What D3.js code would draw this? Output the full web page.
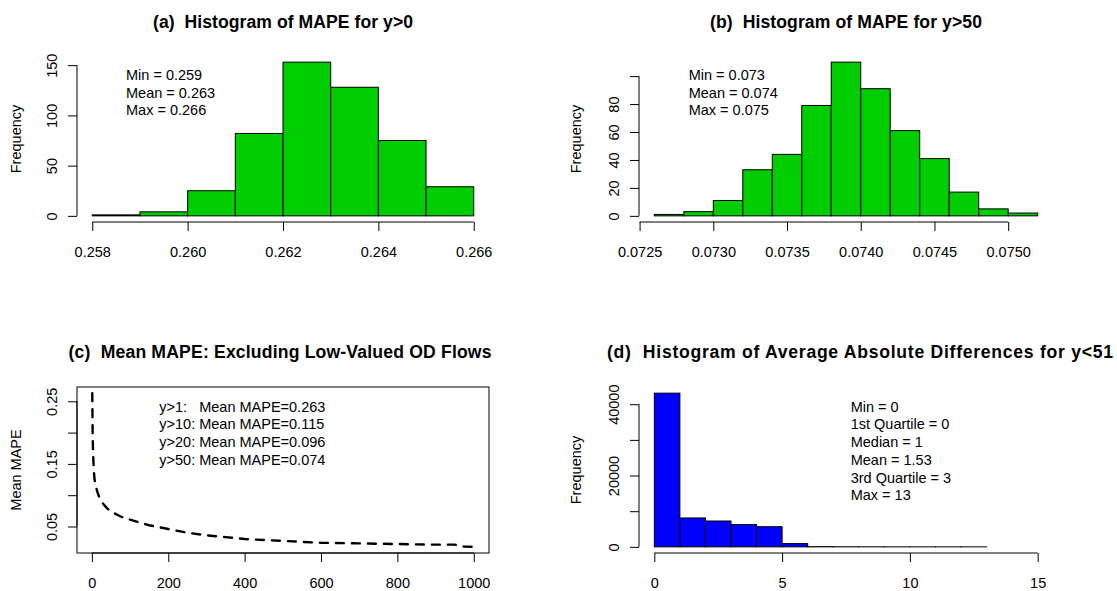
<!DOCTYPE html>
<html lang="en">
    <head>
        <meta charset="utf-8">
        <title>MAPE panels</title>
        <script src="https://d3js.org/d3.v7.min.js"></script>
        <style type="text/css">
            body { margin: 0; background: #fff; }
            text { font-family: "Liberation Sans", Arial, sans-serif; fill: #000; white-space: pre; }
            .tick line, .axisLine { stroke: #000; stroke-width: 1; }
        </style>
    </head>
    <body>
        <script type="text/javascript">

            //1. Consts
            const svgWidth = 1117;
            const svgHeight = 591;
            const fs = 14.5;
            const green = "#00cd00";
            const blue = "#0000ff";

            //2. Data
            // (a) MAPE for y>0
            const breaksA = [0.258, 0.259, 0.260, 0.261, 0.262, 0.263, 0.264, 0.265, 0.266];
            const countsA = [1, 4, 25, 82, 153, 128, 75, 29];
            const xTicksA = [0.258, 0.260, 0.262, 0.264, 0.266];
            const yTicksA = [0, 50, 100, 150];
            const statsA = ["Min = 0.259", "Mean = 0.263", "Max = 0.266"];

            // (b) MAPE for y>50
            const breaksB = [0.0726, 0.0728, 0.0730, 0.0732, 0.0734, 0.0736, 0.0738, 0.0740,
                             0.0742, 0.0744, 0.0746, 0.0748, 0.0750, 0.0752];
            const countsB = [1, 3, 11, 33, 44, 79, 110, 91, 61, 41, 17, 5, 2];
            const xTicksB = [0.0725, 0.0730, 0.0735, 0.0740, 0.0745, 0.0750];
            const yTicksB = [0, 20, 40, 60, 80, 100];
            const yLabelsB = [0, 20, 40, 60, 80];
            const statsB = ["Min = 0.073", "Mean = 0.074", "Max = 0.075"];

            // (c) mean MAPE vs threshold
            const threshC = [1, 2, 3, 5, 7, 10, 15, 20, 30, 40, 50, 75, 100, 150, 200, 250,
                             300, 350, 400, 500, 600, 700, 800, 900, 950, 970, 1000];
            const mapeC = [0.263, 0.200, 0.170, 0.140, 0.125, 0.115, 0.104, 0.096, 0.086, 0.079,
                           0.074, 0.066, 0.061, 0.052, 0.046, 0.040, 0.036, 0.033, 0.030, 0.027,
                           0.024, 0.023, 0.022, 0.021, 0.021, 0.018, 0.0175];
            const xTicksC = [0, 200, 400, 600, 800, 1000];
            const yTicksC = [0.05, 0.10, 0.15, 0.20, 0.25];
            const yLabelsC = [0.05, 0.15, 0.25];
            const statsC = ["y>1:   Mean MAPE=0.263", "y>10: Mean MAPE=0.115",
                            "y>20: Mean MAPE=0.096", "y>50: Mean MAPE=0.074"];

            // (d) average absolute differences for y<51
            const breaksD = [0, 1, 2, 3, 4, 5, 6, 7, 8, 9, 10, 11, 12, 13];
            const countsD = [43100, 8100, 7250, 6250, 5650, 920, 60, 25, 10, 5, 3, 2, 1];
            const xTicksD = [0, 5, 10, 15];
            const yTicksD = [0, 10000, 20000, 30000, 40000];
            const yLabelsD = [0, 20000, 40000];
            const statsD = ["Min = 0", "1st Quartile = 0", "Median = 1", "Mean = 1.53",
                            "3rd Quartile = 3", "Max = 13"];

            //3. helpers
            const pad = (lo, hi) => { const e = (hi - lo) * 0.04; return [lo - e, hi + e]; };
            const colL = [77, 489], colR = [639, 1053];
            const rowT = [222, 56], rowB = [553, 387];

            const svg = d3.select("body")
                        .append("svg")
                        .attr("width", svgWidth)
                        .attr("height", svgHeight);

            function xAxis(g, x, ticks, fmt, yPos) {
                const ax = g.append("g")
                    .attr("transform", "translate(0," + yPos + ")")
                    .call(d3.axisBottom(x).tickValues(ticks).tickFormat(fmt)
                        .tickSize(9).tickSizeOuter(0).tickPadding(16));
                ax.select(".domain").remove();
                ax.selectAll("text").attr("font-size", fs + "px").attr("font-family", null);
                g.append("line").attr("class", "axisLine")
                    .attr("x1", x(ticks[0])).attr("x2", x(ticks[ticks.length - 1]))
                    .attr("y1", yPos).attr("y2", yPos);
            }

            function yAxis(g, y, ticks, labels, fmt, xPos) {
                const ax = g.append("g")
                    .attr("transform", "translate(" + xPos + ",0)")
                    .call(d3.axisLeft(y).tickValues(ticks).tickFormat(fmt).tickSize(9).tickSizeOuter(0));
                ax.select(".domain").remove();
                ax.selectAll("text")
                    .attr("font-size", fs + "px").attr("font-family", null)
                    .attr("text-anchor", "middle")
                    .attr("x", 0).attr("dy", "0.35em")
                    .attr("transform", "translate(-25.3,0) rotate(-90)")
                    .text(d => labels.includes(d) ? fmt(d) : "");
                g.append("line").attr("class", "axisLine")
                    .attr("x1", xPos).attr("x2", xPos)
                    .attr("y1", y(ticks[0])).attr("y2", y(ticks[ticks.length - 1]));
            }

            // titles: width measured on the reference, so letters are spread to match
            function title(txt, x, y, w, anchor) {
                svg.append("text").attr("x", x).attr("y", y)
                    .attr("text-anchor", anchor || "middle")
                    .attr("font-size", "17.6px").attr("font-weight", "bold")
                    .attr("textLength", w).attr("lengthAdjust", "spacing")
                    .text(txt);
            }

            function ylab(txt, x, y) {
                svg.append("text").attr("transform", "translate(" + x + "," + y + ") rotate(-90)")
                    .attr("text-anchor", "middle").attr("dy", "0.35em")
                    .attr("font-size", fs + "px").text(txt);
            }

            function stats(lines, x, y) {
                svg.append("g").selectAll("text")
                    .data(lines).enter().append("text")
                    .attr("x", x).attr("y", (d, i) => y + i * 17.7)
                    .attr("dy", "0.35em")
                    .attr("font-size", fs + "px")
                    .text(d => d);
            }

            function bars(breaks, counts, x, y, fill) {
                const bins = counts.map((c, i) => ({ x0: breaks[i], x1: breaks[i + 1], n: c }));
                svg.append("g").selectAll("rect")
                    .data(bins).enter().append("rect")
                    .attr("x", d => x(d.x0))
                    .attr("width", d => x(d.x1) - x(d.x0))
                    .attr("y", d => y(d.n))
                    .attr("height", d => y(0) - y(d.n))
                    .attr("fill", fill)
                    .attr("stroke", "#000")
                    .attr("stroke-width", 1);
            }

            //4. panel (a)
            {
                const x = d3.scaleLinear().domain(pad(breaksA[0], breaksA[breaksA.length - 1])).range(colL);
                const y = d3.scaleLinear().domain(pad(0, d3.max(countsA))).range(rowT);
                bars(breaksA, countsA, x, y, green);
                const g = svg.append("g");
                xAxis(g, x, xTicksA, d3.format(".3f"), rowT[0]);
                yAxis(g, y, yTicksA, yTicksA, d3.format("d"), colL[0]);
                title("(a)  Histogram of MAPE for y>0", (colL[0] + colL[1]) / 2, 28, 260);
                ylab("Frequency", 16, (rowT[0] + rowT[1]) / 2);
                stats(statsA, 126, 75);
            }

            //5. panel (b)
            {
                const x = d3.scaleLinear().domain(pad(breaksB[0], breaksB[breaksB.length - 1])).range(colR);
                const y = d3.scaleLinear().domain(pad(0, d3.max(countsB))).range(rowT);
                bars(breaksB, countsB, x, y, green);
                const g = svg.append("g");
                xAxis(g, x, xTicksB, d3.format(".4f"), rowT[0]);
                yAxis(g, y, yTicksB, yLabelsB, d3.format("d"), colR[0]);
                title("(b)  Histogram of MAPE for y>50", (colR[0] + colR[1]) / 2, 28, 272);
                ylab("Frequency", 576, (rowT[0] + rowT[1]) / 2);
                stats(statsB, 688.7, 75);
            }

            //6. panel (c)
            {
                const x = d3.scaleLinear().domain(pad(d3.min(threshC), d3.max(threshC))).range(colL);
                const y = d3.scaleLinear().domain(pad(d3.min(mapeC), d3.max(mapeC))).range(rowB);
                svg.append("rect")
                    .attr("x", colL[0]).attr("y", rowB[1])
                    .attr("width", colL[1] - colL[0]).attr("height", rowB[0] - rowB[1])
                    .attr("fill", "none").attr("stroke", "#000");
                const line = d3.line().x(d => x(d[0])).y(d => y(d[1]));
                svg.append("path")
                    .datum(threshC.map((t, i) => [t, mapeC[i]]))
                    .attr("d", line)
                    .attr("fill", "none")
                    .attr("stroke", "#000")
                    .attr("stroke-width", 2.4)
                    .attr("stroke-linecap", "round")
                    .attr("stroke-dasharray", "8,8");
                const g = svg.append("g");
                xAxis(g, x, xTicksC, d3.format("d"), rowB[0]);
                yAxis(g, y, yTicksC, yLabelsC, d3.format(".2f"), colL[0]);
                title("(c)  Mean MAPE: Excluding Low-Valued OD Flows", 280, 358, 423);
                ylab("Mean MAPE", 16, (rowB[0] + rowB[1]) / 2);
                stats(statsC, 159.3, 406.7);
            }

            //7. panel (d)
            {
                const x = d3.scaleLinear().domain(pad(0, 15)).range(colR);
                const y = d3.scaleLinear().domain(pad(0, d3.max(countsD))).range(rowB);
                bars(breaksD, countsD, x, y, blue);
                const g = svg.append("g");
                xAxis(g, x, xTicksD, d3.format("d"), rowB[0]);
                yAxis(g, y, yTicksD, yLabelsD, d3.format("d"), colR[0]);
                title("(d)  Histogram of Average Absolute Differences for y<51", 607, 358, 506, "start");
                ylab("Frequency", 576, (rowB[0] + rowB[1]) / 2);
                stats(statsD, 850.7, 406.7);
            }

        </script>
    </body>
</html>
